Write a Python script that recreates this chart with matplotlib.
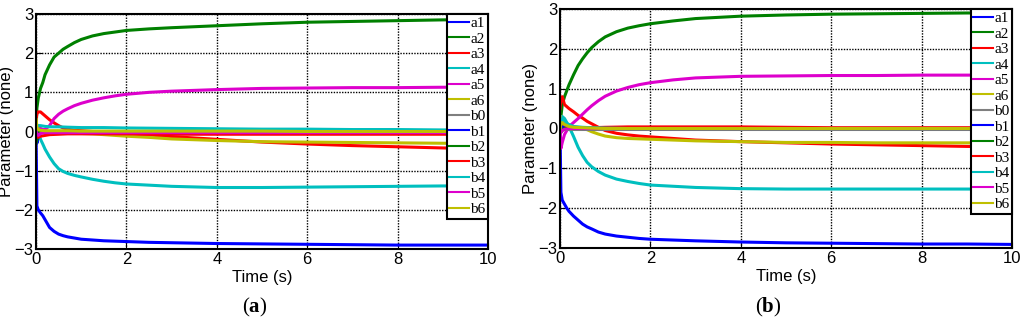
import matplotlib
matplotlib.use("Agg")
import matplotlib.pyplot as plt

plt.rcParams["font.family"] = ["Liberation Sans", "DejaVu Sans"]
plt.rcParams["mathtext.fontset"] = "custom"
plt.rcParams["mathtext.bf"] = "Liberation Serif:bold"
plt.rcParams["mathtext.rm"] = "Liberation Serif"

# sample times (s): fine grid for the curves that move, coarse for the near-zero ones
t_fine = [0, 0.02, 0.05, 0.1, 0.15, 0.2, 0.3, 0.4, 0.5, 0.6, 0.7, 0.85, 1, 1.25, 1.5, 1.75,
          2, 2.5, 3, 4, 5, 6, 7, 8, 9, 10]
t_coarse = [0, 0.02, 0.05, 0.1, 0.2, 0.3, 0.5, 0.7, 1, 1.5, 2, 3, 4, 5, 6, 7, 8, 9, 10]

names = ["a1", "a2", "a3", "a4", "a5", "a6", "b0", "b1", "b2", "b3", "b4", "b5", "b6"]

# ---- panel (a) ----
a_a1 = [0, -1.9, -2.0, -2.08, -2.15, -2.25, -2.45, -2.55, -2.62, -2.66, -2.69, -2.72, -2.75,
        -2.77, -2.79, -2.8, -2.81, -2.83, -2.84, -2.86, -2.87, -2.88, -2.89, -2.9, -2.9, -2.9]
a_a2 = [0, 0.6, 0.85, 1.1, 1.25, 1.45, 1.7, 1.9, 2.0, 2.1, 2.17, 2.27, 2.35, 2.44, 2.5, 2.54,
        2.58, 2.62, 2.65, 2.7, 2.75, 2.79, 2.81, 2.83, 2.85, 2.86]
a_a3 = [0.3, 0.45, 0.5, 0.5, 0.45, 0.4, 0.3, 0.22, 0.15, 0.09, 0.06, 0.03, 0.02, 0, -0.02, -0.04,
        -0.06, -0.09, -0.13, -0.2, -0.27, -0.32, -0.36, -0.39, -0.42, -0.44]
a_a4 = [0, 0.05, 0.0, -0.2, -0.32, -0.45, -0.65, -0.82, -0.95, -1.02, -1.07, -1.12, -1.16, -1.22,
        -1.27, -1.31, -1.34, -1.37, -1.4, -1.43, -1.43, -1.42, -1.41, -1.4, -1.39, -1.39]
a_a5 = [0, 0.05, 0.1, 0.08, 0.05, 0.05, 0.15, 0.33, 0.44, 0.52, 0.58, 0.66, 0.72, 0.8, 0.86, 0.91,
        0.95, 1.0, 1.03, 1.07, 1.1, 1.11, 1.12, 1.12, 1.13, 1.13]
a_a6 = [0.3, 0.15, 0.05, 0.0, 0.0, 0.0, 0.0, 0.0, 0.0, -0.01, -0.02, -0.03, -0.05, -0.06, -0.08,
        -0.1, -0.12, -0.15, -0.19, -0.23, -0.26, -0.27, -0.28, -0.29, -0.3, -0.3]
a_b0 = [0] * 19
a_b1 = [0, -0.3, -0.1, -0.02, 0, 0, 0, 0, 0, 0, 0, 0, 0, 0, 0, 0, 0, 0, 0]
a_b2 = [-0.3, -0.2, -0.05, 0, 0, 0, 0, 0, 0, 0, 0, 0, 0, 0, 0, 0, 0, 0, 0]
a_b3 = [0, -0.1, -0.15, -0.12, -0.1, -0.08, -0.07, -0.06, -0.06, -0.06, -0.06, -0.07, -0.07,
        -0.07, -0.07, -0.07, -0.07, -0.07, -0.07]
a_b4 = [0, 0.1, 0.15, 0.15, 0.13, 0.12, 0.12, 0.11, 0.1, 0.1, 0.09, 0.08, 0.07, 0.06, 0.06, 0.05,
        0.05, 0.04, 0.04]
a_b5 = [0, -0.05, -0.1, -0.05, -0.03, -0.03, -0.03, -0.03, -0.03, -0.03, -0.03, -0.03, -0.03,
        -0.03, -0.03, -0.03, -0.03, -0.03, -0.03]
a_b6 = [0.3, 0.1, 0.05, 0.03, 0.02, 0.02, 0.02, 0.02, 0.01, 0.01, 0.01, 0.01, 0.01, 0.01, 0, 0, 0,
        0, 0]

# ---- panel (b) ----
b_a1 = [0, -1.6, -1.8, -1.9, -2.0, -2.08, -2.2, -2.3, -2.4, -2.47, -2.52, -2.6, -2.65, -2.7,
        -2.73, -2.76, -2.78, -2.8, -2.82, -2.85, -2.87, -2.88, -2.89, -2.9, -2.9, -2.91]
b_a2 = [0, 0.3, 0.6, 0.8, 0.95, 1.1, 1.35, 1.58, 1.75, 1.9, 2.03, 2.18, 2.3, 2.43, 2.52, 2.58,
        2.63, 2.7, 2.76, 2.82, 2.85, 2.87, 2.88, 2.89, 2.9, 2.9]
b_a3 = [0.5, 0.75, 0.8, 0.6, 0.55, 0.5, 0.42, 0.33, 0.26, 0.18, 0.12, 0.03, -0.05, -0.12, -0.16,
        -0.19, -0.21, -0.25, -0.29, -0.33, -0.36, -0.39, -0.41, -0.43, -0.45, -0.46]
b_a4 = [0, 0.3, 0.3, 0.25, 0.15, 0.05, -0.2, -0.47, -0.68, -0.85, -0.96, -1.08, -1.17, -1.27,
        -1.33, -1.38, -1.42, -1.45, -1.48, -1.51, -1.52, -1.52, -1.52, -1.52, -1.52, -1.52]
b_a5 = [0, -0.5, -0.35, -0.15, -0.05, 0.05, 0.15, 0.25, 0.36, 0.47, 0.57, 0.7, 0.81, 0.94,
        1.03, 1.1, 1.15, 1.22, 1.27, 1.31, 1.32, 1.33, 1.33, 1.34, 1.34, 1.34]
b_a6 = [0.3, 0.2, 0.15, 0.1, 0.08, 0.05, 0.03, 0.01, 0, -0.03, -0.08, -0.14, -0.19, -0.23, -0.25,
        -0.26, -0.27, -0.29, -0.31, -0.33, -0.35, -0.35, -0.36, -0.36, -0.36, -0.36]
b_b0 = [0] * 19
b_b1 = [0, 0.1, 0.05, 0.03, 0.02, 0.01, 0, 0, 0, 0, 0, 0, 0, 0, 0, 0, 0, 0, 0]
b_b2 = [0, -0.1, -0.05, 0, 0, 0, 0, 0, 0, 0, 0, 0, 0, 0, 0, 0, 0, 0, 0]
b_b3 = [0, 0.1, 0.15, 0.1, 0.05, 0.03, 0.02, 0.02, 0.03, 0.04, 0.04, 0.04, 0.04, 0.03, 0.02,
        0.02, 0.02, 0.02, 0.02]
b_b4 = [0, 0.2, 0.25, 0.15, 0.1, 0.05, 0.03, 0.02, 0.01, 0, 0, 0, 0, 0, 0, 0, 0, 0, 0]
b_b5 = [0, -0.1, -0.05, -0.02, 0, 0, 0, 0, 0, 0, 0, 0, 0, 0, 0, 0, 0, 0, 0]
b_b6 = [0, 0.1, 0.15, 0.1, 0.05, 0.03, 0.02, 0.01, 0, 0, 0, 0, 0, 0, 0, 0, 0, 0, 0]

panel_a = [a_a1, a_a2, a_a3, a_a4, a_a5, a_a6, a_b0, a_b1, a_b2, a_b3, a_b4, a_b5, a_b6]
panel_b = [b_a1, b_a2, b_a3, b_a4, b_a5, b_a6, b_b0, b_b1, b_b2, b_b3, b_b4, b_b5, b_b6]

colors = ["#0000ff", "#008000", "#ff0000", "#00bfbf", "#dd00cc", "#bfbf00", "#7f7f7f",
          "#0000ff", "#008000", "#ff0000", "#00bfbf", "#dd00cc", "#bfbf00"]

fig = plt.figure(figsize=(10.24, 3.22), dpi=100)
ax_a = fig.add_axes([36 / 1024, 1 - 249 / 322, 452 / 1024, 235 / 322])
ax_b = fig.add_axes([560 / 1024, 1 - 248 / 322, 452 / 1024, 239 / 322])

for ax, series in [(ax_a, panel_a), (ax_b, panel_b)]:
    for vals, name, c in zip(series, names, colors):
        tt = t_fine if len(vals) == len(t_fine) else t_coarse
        ax.plot(tt, vals, color=c, lw=2.2, label=name, solid_joinstyle="round")
    ax.set_xlim(0, 10)
    ax.set_ylim(-3, 3)
    ax.set_xticks([0, 2, 4, 6, 8, 10])
    ax.set_yticks([-3, -2, -1, 0, 1, 2, 3])
    ax.grid(True, color="black", linestyle=(0, (1, 1)), lw=1.0)
    ax.tick_params(direction="in", labelsize=12, pad=2, length=4)
    for sp in ax.spines.values():
        sp.set_linewidth(1.5)
    ax.set_xlabel("Time (s)", fontsize=12, labelpad=2)
    ax.set_ylabel("Parameter (none)", fontsize=12, labelpad=0)
    leg = ax.legend(loc="upper right", bbox_to_anchor=(1.0, 1.0), borderaxespad=0,
                    fancybox=False, framealpha=1, edgecolor="black",
                    prop={"family": "Liberation Serif", "size": 11},
                    handlelength=1.3, handletextpad=0.1, labelspacing=0.12,
                    borderpad=0.15)
    leg.get_frame().set_linewidth(1.5)
    for ln in leg.get_lines():
        ln.set_linewidth(1.5)

fig.text(255 / 1024, 1 - 307 / 322, r"($\mathbf{a}$)", ha="center", va="center",
         fontsize=15, family="Liberation Serif")
fig.text(768 / 1024, 1 - 307 / 322, r"($\mathbf{b}$)", ha="center", va="center",
         fontsize=15, family="Liberation Serif")

fig.savefig("out.png", dpi=100)
